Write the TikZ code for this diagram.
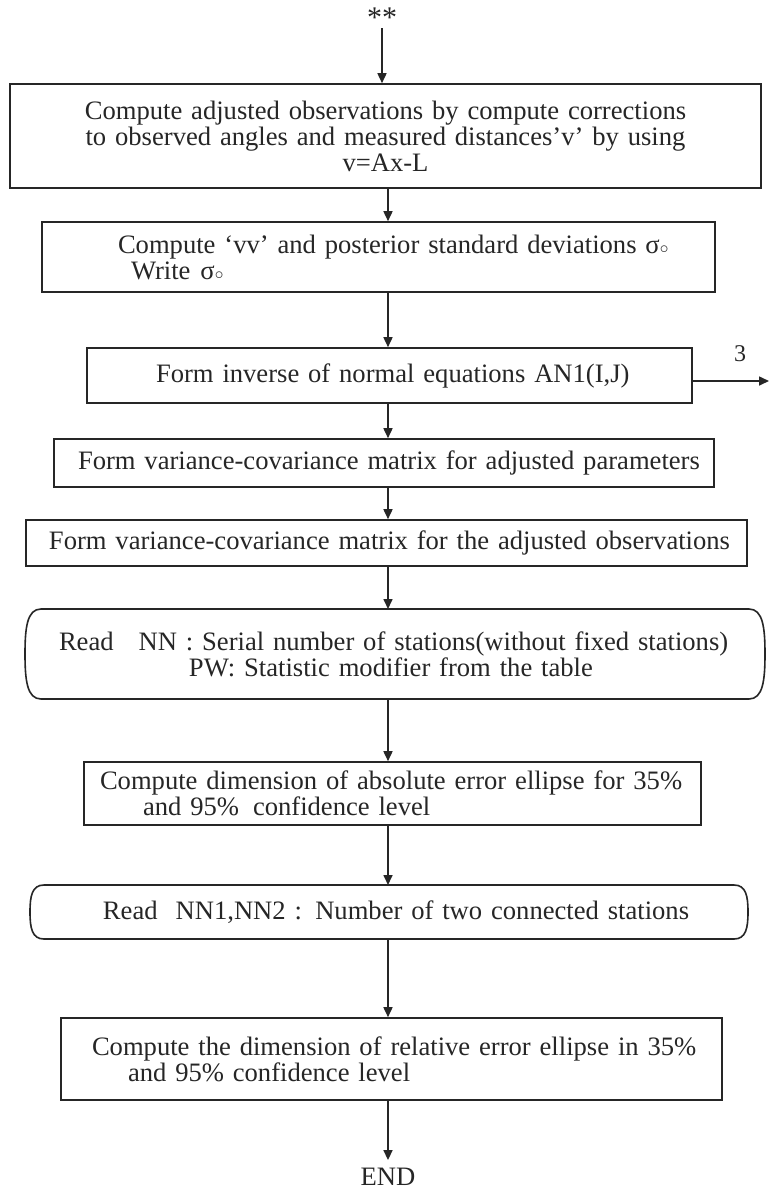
\documentclass[tikz,border=0pt]{standalone}
\usepackage{fontspec}
\setmainfont{Liberation Serif}
\usetikzlibrary{arrows.meta}
\definecolor{ink}{HTML}{262626}
\newcommand\fs{\fontsize{26.6}{26}\selectfont}
\newcommand\parenbox[3]{%
  \draw[line] ([xshift=#2]#1.north west) -- ([xshift=-#2]#1.north east)
    .. controls ([xshift=-2pt]#1.north east) and ([yshift=#3]#1.east) .. (#1.east)
    .. controls ([yshift=-#3]#1.east) and ([xshift=-2pt]#1.south east) .. ([xshift=-#2]#1.south east)
    -- ([xshift=#2]#1.south west)
    .. controls ([xshift=2pt]#1.south west) and ([yshift=-#3]#1.west) .. (#1.west)
    .. controls ([yshift=#3]#1.west) and ([xshift=2pt]#1.north west) .. cycle;}
\begin{document}
\begin{tikzpicture}[x=1pt,y=-1pt,
  line/.style={draw=ink, line width=1.6pt},
  arr/.style={line, -{Triangle[length=10pt,width=9pt]}},
  box/.style={line, rectangle, inner xsep=0pt, inner ysep=0pt, font=\fs, text=ink, align=left},
  plain/.style={rectangle, inner xsep=0pt, inner ysep=0pt, outer sep=0pt, font=\fs, text=ink, align=left},
  lbl/.style={font=\fs, text=ink, inner sep=0pt}]
\fill[white] (0,0) rectangle (769,1192);
\useasboundingbox (0,0) rectangle (769,1192);

\node[lbl, font=\fontsize{30}{30}\selectfont] (start) at (382,18) {**};

\node[box, minimum width=751pt, minimum height=104pt, text width=751pt, align=center] (b1) at (385.5,136)
  {Compute adjusted observations by compute corrections\\ to observed angles and measured distances’v’ by using\\ v=Ax-L};

\node[box, minimum width=673pt, minimum height=70pt, text width=673pt] (b2) at (378.5,257)
  {\hspace*{76pt}Compute ‘vv’ and posterior standard deviations σ$\scriptstyle\circ$\\ \hspace*{89pt}Write\hspace{10pt}σ$\scriptstyle\circ$};

\node[box, minimum width=605pt, minimum height=55pt, text width=605pt] (b3) at (389.5,375.5)
  {\hspace*{69pt}Form inverse of normal equations AN1(I,J)};

\node[lbl, font=\fontsize{24}{24}\selectfont] (three) at (740,354) {3};

\node[box, minimum width=660pt, minimum height=48pt, text width=660pt] (b4) at (384,463)
  {\hspace*{24pt}Form variance-covariance matrix for adjusted parameters};

\node[box, minimum width=721pt, minimum height=46pt, text width=721pt] (b5) at (386.5,543)
  {\hspace*{23pt}Form variance-covariance matrix for the adjusted observations};

\node[plain, minimum width=740pt, minimum height=90pt, text width=740pt] (b6) at (395,654)
  {\hspace*{34pt}Read\hspace{25pt}NN : Serial number of stations(without fixed stations)\\ \hspace*{164pt}PW: Statistic modifier from the table};
\parenbox{b6}{16pt}{26pt}

\node[box, minimum width=617pt, minimum height=63pt, text width=617pt] (b7) at (392.5,793.5)
  {\hspace*{16pt}Compute dimension of absolute error ellipse for 35\%\\ \hspace*{59pt}and 95\%\hspace{14pt}confidence level};

\node[plain, minimum width=718pt, minimum height=54pt, text width=718pt] (b8) at (389,912)
  {\hspace*{73pt}Read\hspace{18pt}NN1,NN2 : Number of two connected stations};
\parenbox{b8}{14pt}{16pt}

\node[box, minimum width=661pt, minimum height=82pt, text width=661pt] (b9) at (391.5,1059)
  {\hspace*{31pt}Compute the dimension of relative error ellipse in 35\%\\ \hspace*{67pt}and 95\% confidence level};

\node[lbl] (end) at (388,1177) {END};

\coordinate (sp) at (388,0);
\coordinate (out3) at (769,381);
\draw[arr] (start.south) -- (start.south |- b1.north);
\draw[arr] (b1.south -| sp) -- (b2.north -| sp);
\draw[arr] (b2.south -| sp) -- (b3.north -| sp);
\draw[arr] (b3.east |- out3) -- (out3);
\draw[arr] (b3.south -| sp) -- (b4.north -| sp);
\draw[arr] (b4.south -| sp) -- (b5.north -| sp);
\draw[arr] (b5.south -| sp) -- (b6.north -| sp);
\draw[arr] (b6.south -| sp) -- (b7.north -| sp);
\draw[arr] (b7.south -| sp) -- (b8.north -| sp);
\draw[arr] (b8.south -| sp) -- (b9.north -| sp);
\draw[arr, shorten >=8pt] (b9.south -| sp) -- (end.north -| sp);
\end{tikzpicture}
\end{document}
